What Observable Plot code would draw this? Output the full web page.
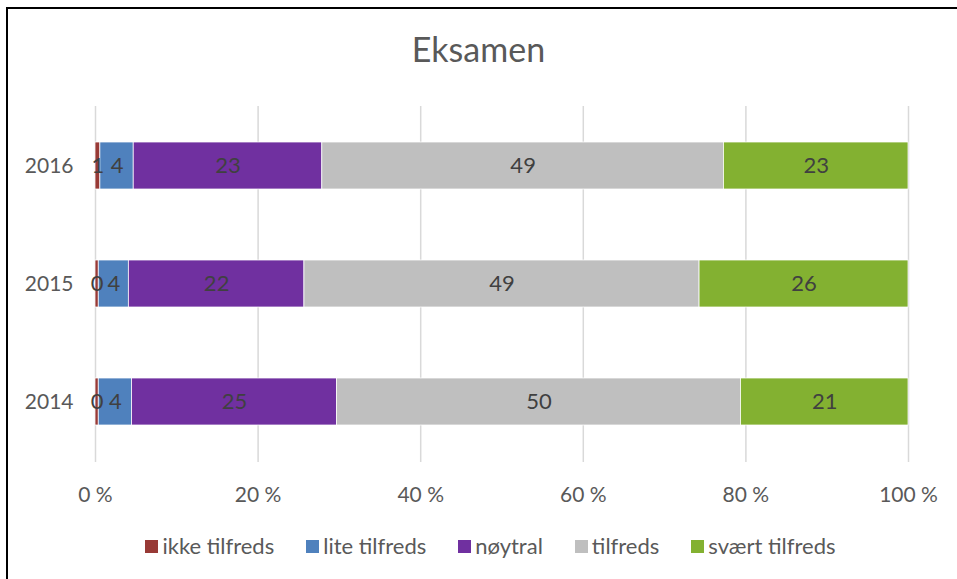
<!DOCTYPE html>
<html>
<head>
<meta charset="utf-8">
<script src="https://cdn.jsdelivr.net/npm/d3@7"></script>
<script src="https://cdn.jsdelivr.net/npm/@observablehq/plot@0.6"></script>
<style>
  html, body { margin: 0; padding: 0; background: #fff; }
  #wrap { position: relative; width: 957px; height: 579px; overflow: hidden; font-family: Lato, "Open Sans", sans-serif; }
  #frame { position: absolute; left: 6px; top: 7px; width: 960px; height: 580px; border-top: 2px solid #000; border-left: 2px solid #000; box-sizing: border-box; }
  #title { position: absolute; left: 0; top: 29px; width: 957px; text-align: center; font-size: 34px; color: #595959; line-height: 40px; }
  #chart { position: absolute; left: 0; top: 80px; }
  #legend { position: absolute; left: 12px; top: 532px; width: 957px; display: flex; justify-content: center; gap: 32px; font-size: 22px; color: #595959; line-height: 28px; }
  .item { display: flex; align-items: center; }
  .sw { width: 13px; height: 13px; margin-right: 4px; }
</style>
</head>
<body>
<div id="wrap">
  <div id="frame"></div>
  <div id="title">Eksamen</div>
  <div id="chart"></div>
  <div id="legend"></div>
</div>
<script>
const years = ["2016", "2015", "2014"];
const categories = ["ikke tilfreds", "lite tilfreds", "nøytral", "tilfreds", "svært tilfreds"];
const colors = ["#983a36", "#4f81bd", "#7030a0", "#bfbfbf", "#83b131"];
const ikkeTilfreds = [0.6, 0.4, 0.4];
const liteTilfreds = [4.1, 3.7, 4.1];
const noytral = [23.2, 21.6, 25.2];
const tilfreds = [49.4, 48.6, 49.7];
const svaertTilfreds = [22.7, 25.7, 20.6];
const xTicks = [0, 20, 40, 60, 80, 100];

const series = [ikkeTilfreds, liteTilfreds, noytral, tilfreds, svaertTilfreds];
const data = [];
categories.forEach((c, ci) => {
  years.forEach((y, yi) => {
    data.push({year: y, category: c, value: series[ci][yi]});
  });
});

const chart = Plot.plot({
  width: 957,
  height: 440,
  marginTop: 26,
  marginBottom: 58,
  marginLeft: 95,
  marginRight: 49,
  style: {fontFamily: "Lato, 'Open Sans', sans-serif", fontSize: "21px", color: "#595959", background: "transparent"},
  x: {domain: [0, 100], label: null},
  y: {domain: years, label: null, paddingInner: 0.6, paddingOuter: 0.3},
  color: {domain: categories, range: colors},
  marks: [
    Plot.gridX(xTicks, {stroke: "#d9d9d9", strokeOpacity: 1, strokeWidth: 1.5}),
    Plot.barX(data, Plot.stackX({x: "value", y: "year", fill: "category", order: categories, stroke: "#fff", strokeWidth: 0.75})),
    Plot.text(data, Plot.stackX({x: "value", y: "year", z: "category", order: categories, text: d => String(Math.round(d.value)), fill: "#404040", fontSize: 22})),
    Plot.axisX({ticks: xTicks, tickFormat: d => d + " %", tickSize: 0, tickPadding: 25, fontSize: 21, label: null}),
    Plot.axisY({tickSize: 0, tickPadding: 22, fontSize: 21, label: null})
  ]
});
document.getElementById("chart").appendChild(chart);

const legend = document.getElementById("legend");
categories.forEach((c, i) => {
  const it = document.createElement("div");
  it.className = "item";
  const sw = document.createElement("span");
  sw.className = "sw";
  sw.style.background = colors[i];
  const tx = document.createElement("span");
  tx.textContent = c;
  it.appendChild(sw);
  it.appendChild(tx);
  legend.appendChild(it);
});
</script>
</body>
</html>
